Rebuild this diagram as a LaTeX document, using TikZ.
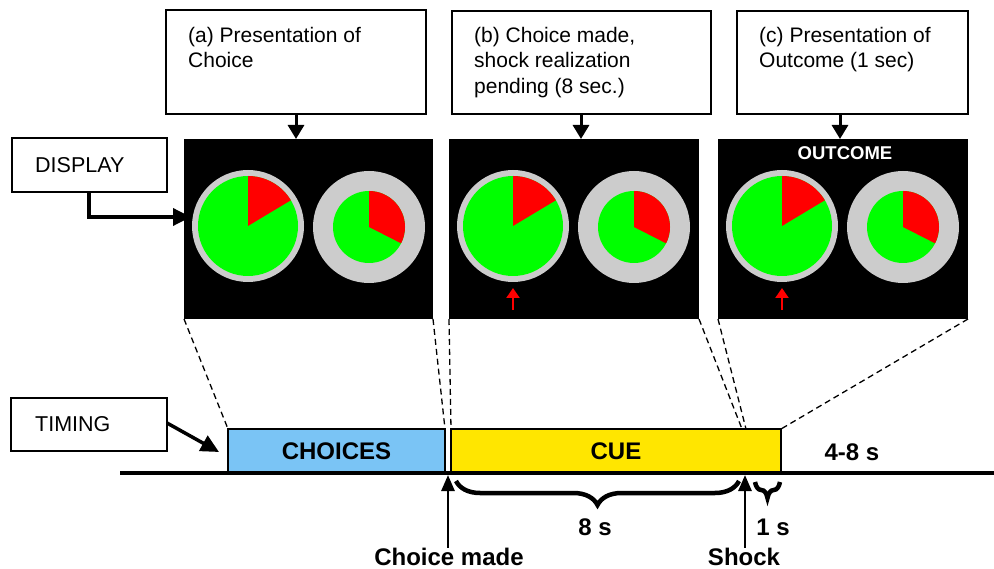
\documentclass[tikz,border=0pt]{standalone}
\usepackage{fontspec}
\setmainfont{Liberation Sans}
\usetikzlibrary{arrows.meta,decorations.pathreplacing,calc}
\definecolor{pgreen}{RGB}{0,255,0}
\definecolor{pred}{RGB}{255,0,0}
\definecolor{pgray}{RGB}{204,204,204}
\definecolor{cblue}{RGB}{122,196,245}
\definecolor{cyellow}{RGB}{255,230,0}
\begin{document}
\begin{tikzpicture}[x=1pt,y=-1pt,
  textbox/.style={draw=black,line width=1.2pt,rectangle,inner sep=0pt,outer sep=0pt,anchor=north west},
  boxtext/.style={anchor=north west,align=left,inner sep=0pt,font=\fontsize{21}{25.5}\selectfont},
  panel/.style={fill=black,rectangle,inner sep=0pt,outer sep=0pt,anchor=north west,minimum height=180pt},
  toparrow/.style={line width=3pt,-{Triangle[width=16pt,length=14pt]}},
  bigarrow/.style={line width=3.5pt,-{Triangle[width=17pt,length=18pt]}},
  uparrow/.style={line width=2.8pt,-{Triangle[width=13pt,length=16pt]}},
  dashline/.style={line width=1.3pt,dash pattern=on 6pt off 4pt},
  phase/.style={draw=black,line width=2.5pt,rectangle,inner sep=0pt,outer sep=0pt,anchor=south west,minimum height=44pt,font=\bfseries\fontsize{24}{28}\selectfont},
  boldlabel/.style={font=\bfseries\fontsize{24}{28}\selectfont,inner sep=0pt},
  timebrace/.style={decorate,line width=4.5pt},
  redarrow/.style={pred,line width=2.2pt,-{Triangle[width=13pt,length=10pt]}}
]
\useasboundingbox (0,0) rectangle (994,569);

% top description boxes
\node[textbox,minimum width=260pt,minimum height=104pt] (boxA) at (166,10) {};
\node[textbox,minimum width=259pt,minimum height=103pt] (boxB) at (452,11) {};
\node[textbox,minimum width=231pt,minimum height=103pt] (boxC) at (737,11) {};
\node[boxtext] (tA) at (188,27) {(a) Presentation of\\Choice};
\node[boxtext] (tB) at (474,27) {(b) Choice made,\\shock realization\\pending (8 sec.)};
\node[boxtext] (tC) at (759,27) {(c) Presentation of\\Outcome (1 sec)};

% panels
\node[panel,minimum width=249pt] (P1) at (184,139) {};
\node[panel,minimum width=250pt] (P2) at (449,139) {};
\node[panel,minimum width=250pt] (P3) at (718,139) {};

\draw[toparrow] (boxA.south -| 296,0) -- (P1.north -| 296,0);
\draw[toparrow] (boxB.south -| 581,0) -- (P2.north -| 581,0);
\draw[toparrow] (boxC.south -| 840,0) -- (P3.north -| 840,0);

% dials
\foreach \x in {184,449,718}{
  \begin{scope}[shift={(\x+64,226)},y=1pt]
    \fill[pgray] (0,0) circle (56);
    \fill[pgreen] (0,0) circle (50);
    \fill[pred] (0,0) -- (90:50) arc[start angle=90,end angle=31,radius=50] -- cycle;
  \end{scope}
  \begin{scope}[shift={(\x+185,227)},y=1pt]
    \fill[pgray] (0,0) circle (56);
    \fill[pgreen] (0,0) circle (36);
    \fill[pred] (0,0) -- (90:36) arc[start angle=90,end angle=-27,radius=36] -- cycle;
  \end{scope}
}
\coordinate (ra2) at (513,310);
\coordinate (rb2) at (513,288);
\coordinate (ra3) at (782,310);
\coordinate (rb3) at (782,288);
\draw[redarrow] (ra2) -- (rb2);
\draw[redarrow] (ra3) -- (rb3);
\node[white,font=\bfseries\fontsize{18.5}{20}\selectfont,inner sep=0pt] (outc) at (845,153) {OUTCOME};

% DISPLAY
\node[textbox,minimum width=155pt,minimum height=54pt] (disp) at (12,138) {};
\node[anchor=west,inner sep=0pt,font=\fontsize{21.5}{25}\selectfont] (dispt) at (35,165) {DISPLAY};
\coordinate (dispend) at (191,217);
\draw[bigarrow] (disp.south -| 89,0) |- (dispend);

% TIMING
\node[textbox,minimum width=156pt,minimum height=53pt] (timing) at (11,398) {};
\node[anchor=west,inner sep=0pt,font=\fontsize{21.5}{25}\selectfont] (timingt) at (35,424) {TIMING};
\coordinate (timingend) at (219,452);
\draw[bigarrow] (timing.east |- 0,423) -- (timingend);

% timeline
\coordinate (tl0) at (120,473);
\coordinate (tl1) at (994,473);
\node[phase,fill=cblue,minimum width=217pt] (choices) at (228,473) {CHOICES};
\node[phase,fill=cyellow,minimum width=330pt] (cue) at (451,473) {CUE};
\draw[line width=4pt] (tl0) -- (tl1);
\node[boldlabel] (lat) at (852,452) {4-8 s};

% dashed projections
\coordinate (sh1) at (742,429);
\coordinate (sh2) at (746,429);
\draw[dashline] (P1.south west) -- (choices.north west);
\draw[dashline] (P1.south east) -- (choices.north east);
\draw[dashline] (P2.south west) -- (cue.north west);
\draw[dashline] (P2.south east) -- (sh1);
\draw[dashline] (P3.south west) -- (sh2);
\draw[dashline] (P3.south east) -- (cue.north east);

% braces
\coordinate (b1a) at (456,481);
\coordinate (b1b) at (739,481);
\coordinate (b2a) at (755,482);
\coordinate (b2b) at (780,482);
\draw[timebrace,decoration={brace,amplitude=24pt,mirror}] (b1a) -- (b1b);
\draw[timebrace,decoration={brace,amplitude=16pt,mirror}] (b2a) -- (b2b);
\node[boldlabel] (eights) at (595,527) {8 s};
\node[boldlabel] (ones) at (773,527) {1 s};

% event arrows
\node[boldlabel] (cmade) at (449,557) {Choice made};
\node[boldlabel] (shock) at (744,557) {Shock};
\coordinate (cm) at (448,475);
\coordinate (sk) at (745,475);
\draw[uparrow] (cmade.north -| cm) -- (cm);
\draw[uparrow] (shock.north -| sk) -- (sk);
\end{tikzpicture}
\end{document}
